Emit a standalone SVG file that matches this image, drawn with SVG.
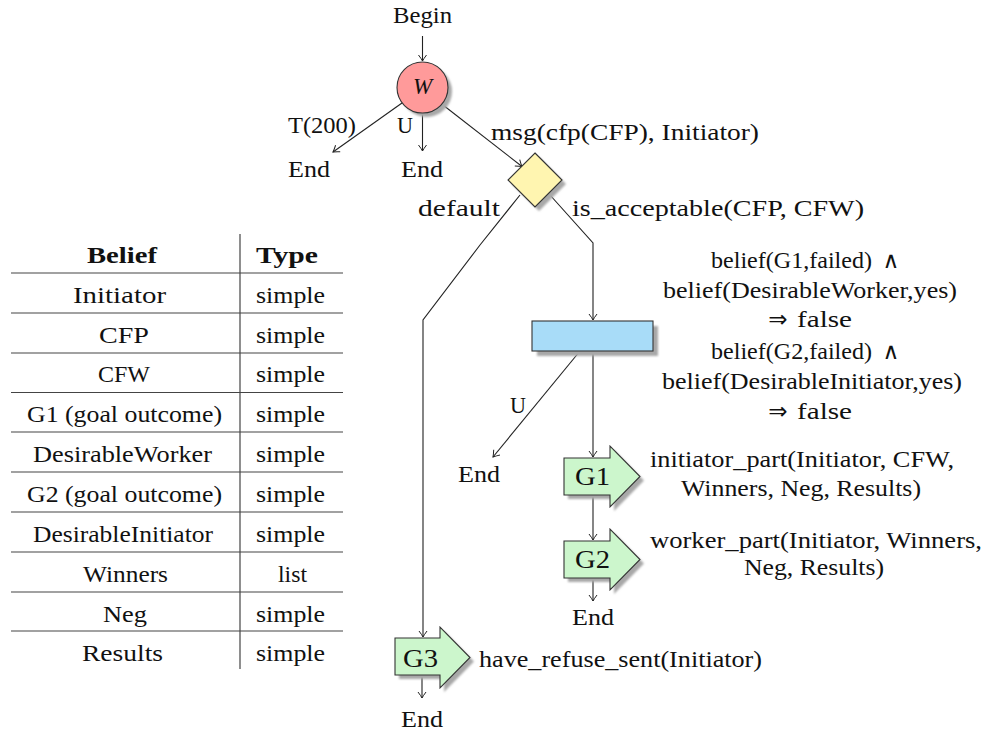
<svg xmlns="http://www.w3.org/2000/svg" width="986" height="735" viewBox="0 0 986 735">
<defs>
<style>
.t{font-family:"Liberation Serif","Times New Roman",serif;font-size:23px;fill:#111}
.s{font-family:"DejaVu Sans",sans-serif;font-size:23px;fill:#111}
.b{font-weight:bold}
.g{font-size:25px}
.c line,.c polyline{stroke:#222;stroke-width:1.1;fill:none}
.sh{fill:#a8a8a8;filter:url(#blur)}
.ol{stroke:#333;stroke-width:1.1}
.tab line{stroke:#444;stroke-width:1.2}
</style>
<filter id="blur" x="-20%" y="-20%" width="140%" height="140%"><feGaussianBlur stdDeviation="0.8"/></filter>
<marker id="ah" viewBox="-8 -5 10 10" refX="0" refY="0" markerWidth="10" markerHeight="10" orient="auto" markerUnits="userSpaceOnUse">
<path d="M-6,-4 Q-2,-1 0,0 Q-2,1 -6,4" fill="none" stroke="#222" stroke-width="1"/>
</marker>
</defs>
<rect width="986" height="735" fill="#fff"/>

<g id="table" class="tab">
<line x1="240" y1="234" x2="240" y2="669"/>
<line x1="11" y1="273" x2="343" y2="273"/>
<line x1="11" y1="313" x2="343" y2="313"/>
<line x1="11" y1="353" x2="343" y2="353"/>
<line x1="11" y1="392.5" x2="343" y2="392.5"/>
<line x1="11" y1="432" x2="343" y2="432"/>
<line x1="11" y1="472" x2="343" y2="472"/>
<line x1="11" y1="512" x2="343" y2="512"/>
<line x1="11" y1="552" x2="343" y2="552"/>
<line x1="11" y1="592" x2="343" y2="592"/>
<line x1="11" y1="631" x2="343" y2="631"/>
<text class="t b" x="87" y="263" textLength="70" lengthAdjust="spacingAndGlyphs">Belief</text>
<text class="t b" x="256" y="263" textLength="62" lengthAdjust="spacingAndGlyphs">Type</text>
<text class="t" x="73" y="303" textLength="93" lengthAdjust="spacingAndGlyphs">Initiator</text>
<text class="t" x="99" y="342.5" textLength="50" lengthAdjust="spacingAndGlyphs">CFP</text>
<text class="t" x="98" y="382" textLength="52" lengthAdjust="spacingAndGlyphs">CFW</text>
<text class="t" x="27" y="422" textLength="195" lengthAdjust="spacingAndGlyphs">G1 (goal outcome)</text>
<text class="t" x="33" y="462" textLength="179" lengthAdjust="spacingAndGlyphs">DesirableWorker</text>
<text class="t" x="27" y="502" textLength="195" lengthAdjust="spacingAndGlyphs">G2 (goal outcome)</text>
<text class="t" x="33" y="542" textLength="180" lengthAdjust="spacingAndGlyphs">DesirableInitiator</text>
<text class="t" x="83" y="582" textLength="85" lengthAdjust="spacingAndGlyphs">Winners</text>
<text class="t" x="103" y="621.5" textLength="44" lengthAdjust="spacingAndGlyphs">Neg</text>
<text class="t" x="82" y="660.5" textLength="81" lengthAdjust="spacingAndGlyphs">Results</text>
<text class="t" x="256" y="303" textLength="69" lengthAdjust="spacingAndGlyphs">simple</text>
<text class="t" x="256" y="342.5" textLength="69" lengthAdjust="spacingAndGlyphs">simple</text>
<text class="t" x="256" y="382" textLength="69" lengthAdjust="spacingAndGlyphs">simple</text>
<text class="t" x="256" y="422" textLength="69" lengthAdjust="spacingAndGlyphs">simple</text>
<text class="t" x="256" y="462" textLength="69" lengthAdjust="spacingAndGlyphs">simple</text>
<text class="t" x="256" y="502" textLength="69" lengthAdjust="spacingAndGlyphs">simple</text>
<text class="t" x="256" y="542" textLength="69" lengthAdjust="spacingAndGlyphs">simple</text>
<text class="t" x="278" y="582" textLength="29" lengthAdjust="spacingAndGlyphs">list</text>
<text class="t" x="256" y="621.5" textLength="69" lengthAdjust="spacingAndGlyphs">simple</text>
<text class="t" x="256" y="660.5" textLength="69" lengthAdjust="spacingAndGlyphs">simple</text>
</g>

<g id="connectors" class="c">
<line x1="422.5" y1="36" x2="422.5" y2="61" marker-end="url(#ah)"/>
<line x1="402" y1="103" x2="333" y2="152" marker-end="url(#ah)"/>
<line x1="422.5" y1="113" x2="422.5" y2="151" marker-end="url(#ah)"/>
<line x1="443" y1="105" x2="522" y2="166.5" marker-end="url(#ah)"/>
<polyline points="520,195 480,245 423,320 423,637" marker-end="url(#ah)"/>
<polyline points="550,195 593,243 593,320" marker-end="url(#ah)"/>
<line x1="580" y1="351" x2="493" y2="457" marker-end="url(#ah)"/>
<line x1="593" y1="351" x2="593" y2="457" marker-end="url(#ah)"/>
<line x1="593" y1="495" x2="593" y2="540" marker-end="url(#ah)"/>
<line x1="593" y1="578" x2="593" y2="601" marker-end="url(#ah)"/>
<line x1="422" y1="675" x2="422" y2="698" marker-end="url(#ah)"/>
<text class="t" x="288" y="133" textLength="68" lengthAdjust="spacingAndGlyphs">T(200)</text>
<text class="t" x="397" y="133" textLength="16" lengthAdjust="spacingAndGlyphs">U</text>
<text class="t" x="491" y="140" textLength="268" lengthAdjust="spacingAndGlyphs">msg(cfp(CFP), Initiator)</text>
<text class="t" x="418" y="216" textLength="82" lengthAdjust="spacingAndGlyphs">default</text>
<text class="t" x="572" y="216" textLength="292" lengthAdjust="spacingAndGlyphs">is_acceptable(CFP, CFW)</text>
<text class="t" x="510" y="413" textLength="16" lengthAdjust="spacingAndGlyphs">U</text>
</g>

<g id="begin">
<text class="t" x="393" y="23" textLength="59" lengthAdjust="spacingAndGlyphs">Begin</text>
</g>

<g id="w">
<circle class="sh" cx="426.5" cy="91.5" r="25.5"/>
<circle class="ol" cx="422.5" cy="87.5" r="25.5" fill="#ff9a9a"/>
<text class="t" x="422.5" y="94" text-anchor="middle" font-style="italic" font-size="22">W</text>
</g>

<g id="end1"><text class="t" x="288" y="177" textLength="42" lengthAdjust="spacingAndGlyphs">End</text></g>
<g id="end2"><text class="t" x="401" y="177" textLength="42" lengthAdjust="spacingAndGlyphs">End</text></g>

<g id="choice">
<polygon class="sh" points="539,157 566,184 539,211 512,184"/>
<polygon class="ol" points="535,153 562,180 535,207 508,180" fill="#fff5b0"/>
</g>

<g id="constraints">
<rect class="sh" x="537" y="326" width="121" height="30"/>
<rect class="ol" x="532" y="321" width="121" height="30" fill="#a8dcf8"/>
<text class="t" x="711" y="268" textLength="161" lengthAdjust="spacingAndGlyphs">belief(G1,failed)</text>
<text class="s" x="891" y="268" text-anchor="middle">∧</text>
<text class="t" x="663" y="298" textLength="294" lengthAdjust="spacingAndGlyphs">belief(DesirableWorker,yes)</text>
<text class="s" x="778" y="327" text-anchor="middle">⇒</text>
<text class="t" x="797" y="327" textLength="55" lengthAdjust="spacingAndGlyphs">false</text>
<text class="t" x="711" y="359" textLength="161" lengthAdjust="spacingAndGlyphs">belief(G2,failed)</text>
<text class="s" x="891" y="359" text-anchor="middle">∧</text>
<text class="t" x="662" y="389" textLength="300" lengthAdjust="spacingAndGlyphs">belief(DesirableInitiator,yes)</text>
<text class="s" x="778" y="419" text-anchor="middle">⇒</text>
<text class="t" x="797" y="419" textLength="55" lengthAdjust="spacingAndGlyphs">false</text>
</g>

<g id="end3"><text class="t" x="458" y="482" textLength="42" lengthAdjust="spacingAndGlyphs">End</text></g>

<g id="g1">
<path class="sh" d="M568,462 H614 V450 L644,480.5 L614,511 V499 H568 Z"/>
<path class="ol" d="M564,458 H610 V446 L640,476.5 L610,507 V495 H564 Z" fill="#ccf6cc"/>
<text class="t g" x="575" y="485" textLength="35" lengthAdjust="spacingAndGlyphs">G1</text>
<text class="t" x="650" y="467" textLength="304" lengthAdjust="spacingAndGlyphs">initiator_part(Initiator, CFW,</text>
<text class="t" x="681" y="496" textLength="240" lengthAdjust="spacingAndGlyphs">Winners, Neg, Results)</text>
</g>

<g id="g2">
<path class="sh" d="M568,545 H614 V533 L644,563.5 L614,594 V582 H568 Z"/>
<path class="ol" d="M564,541 H610 V529 L640,559.5 L610,590 V578 H564 Z" fill="#ccf6cc"/>
<text class="t g" x="575" y="568" textLength="35" lengthAdjust="spacingAndGlyphs">G2</text>
<text class="t" x="650" y="548" textLength="332" lengthAdjust="spacingAndGlyphs">worker_part(Initiator, Winners,</text>
<text class="t" x="744" y="575" textLength="140" lengthAdjust="spacingAndGlyphs">Neg, Results)</text>
</g>

<g id="end4"><text class="t" x="572" y="625" textLength="42" lengthAdjust="spacingAndGlyphs">End</text></g>

<g id="g3">
<path class="sh" d="M399,642 H444 V631 L474,661.5 L444,692 V679 H399 Z"/>
<path class="ol" d="M395,638 H440 V627 L470,657.5 L440,688 V675 H395 Z" fill="#ccf6cc"/>
<text class="t g" x="403" y="667" textLength="35" lengthAdjust="spacingAndGlyphs">G3</text>
<text class="t" x="479" y="667" textLength="283" lengthAdjust="spacingAndGlyphs">have_refuse_sent(Initiator)</text>
</g>

<g id="end5"><text class="t" x="401" y="727" textLength="42" lengthAdjust="spacingAndGlyphs">End</text></g>
</svg>
